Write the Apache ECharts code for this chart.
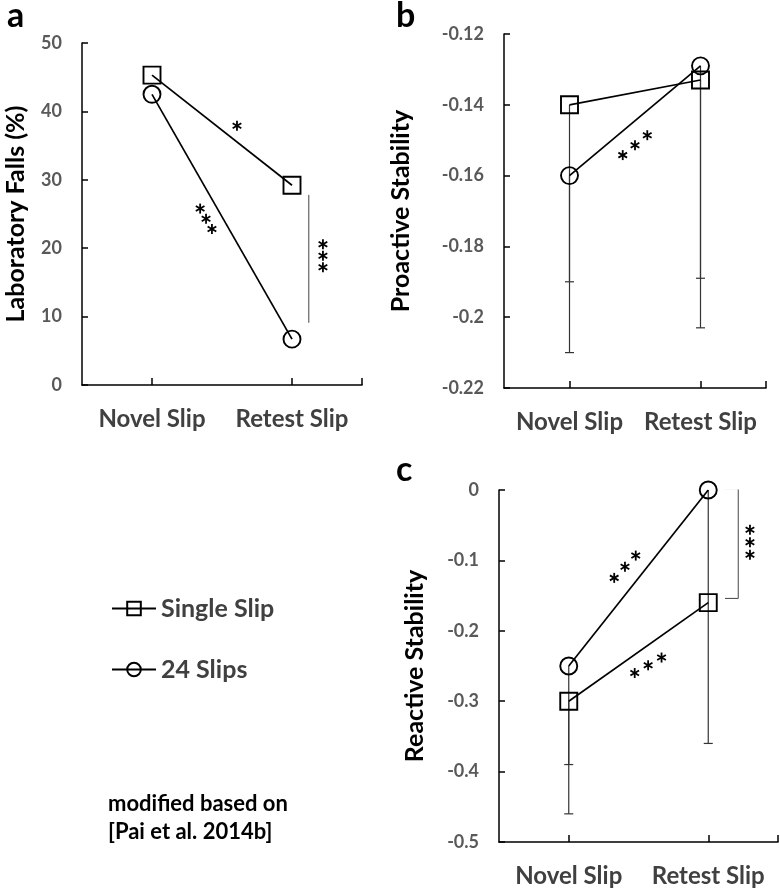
<!DOCTYPE html>
<html><head><meta charset="utf-8">
<script src="https://cdn.jsdelivr.net/npm/echarts@6/dist/echarts.min.js"></script>
<style>html,body{margin:0;padding:0;background:#fff}#c{width:780px;height:890px}</style>
</head><body><div id="c"></div>
<script>
const categories = ['Novel Slip', 'Retest Slip'];
const seriesNames = ['Single Slip', '24 Slips'];
// Panel a: Laboratory Falls (%)
const fallsSingle = [45.3, 29.2];
const falls24 = [42.5, 6.7];
// Panel b: Proactive Stability (mean, lower end of error bar)
const proSingle = [-0.140, -0.133];
const pro24 = [-0.160, -0.129];
const proSingleLow = [-0.190, -0.189];
const pro24Low = [-0.210, -0.203];
// Panel c: Reactive Stability
const reaSingle = [-0.30, -0.16];
const rea24 = [-0.25, 0.00];
const reaSingleLow = [-0.39, null];
const rea24Low = [-0.46, -0.36];
// axis ranges
const yA = {min: 0, max: 50, interval: 10};
const yB = {min: -0.22, max: -0.12, interval: 0.02};
const yC = {min: -0.5, max: 0, interval: 0.1};

const FONT = 'Lato';
const catX = categories.map((c, i) => i + 0.5);

const chart = echarts.init(document.getElementById('c'));

function xAxis(gi) {
  return {
    type: 'value', gridIndex: gi, min: 0, max: categories.length,
    axisLine: {show: true, onZero: false, lineStyle: {color: '#000', width: 1.5}},
    splitLine: {show: false},
    axisTick: {show: true, inside: true, length: 7, customValues: catX.concat([categories.length]), lineStyle: {color: '#000', width: 1.5}},
    axisLabel: {customValues: catX, formatter: v => categories[Math.round(v - 0.5)], color: '#404040', fontFamily: FONT, fontWeight: 'bold', fontSize: 24, margin: 22}
  };
}
function yAxis(gi, r, name, gap, dec) {
  return {
    type: 'value', gridIndex: gi, min: r.min, max: r.max, interval: r.interval,
    name: name, nameLocation: 'middle', nameGap: gap, nameRotate: 90,
    nameTextStyle: {color: '#000', fontFamily: FONT, fontWeight: 'bold', fontSize: 25},
    axisLine: {show: true, onZero: false, lineStyle: {color: '#000', width: 1.5}},
    splitLine: {show: false},
    axisTick: {show: true, inside: true, length: 6, lineStyle: {color: '#000', width: 1.5}},
    axisLabel: {color: '#595959', fontFamily: FONT, fontWeight: 'bold', fontSize: 18, margin: 20,
      formatter: v => String(+v.toFixed(dec))}
  };
}
function lineSeries(gi, name, vals, sym) {
  return {
    type: 'line', name: name, xAxisIndex: gi, yAxisIndex: gi, z: 5,
    data: vals.map((v, i) => [catX[i], v]),
    symbol: sym, symbolSize: 17,
    lineStyle: {color: '#000', width: 1.7},
    itemStyle: {color: 'rgba(255,255,255,0)', borderColor: '#000', borderWidth: 1.9},
    emphasis: {disabled: true}, animation: false
  };
}
function errSeries(gi, vals, lows) {
  const d = [];
  vals.forEach((v, i) => { if (lows[i] != null) d.push([catX[i], v, lows[i]]); });
  return {
    type: 'custom', xAxisIndex: gi, yAxisIndex: gi, z: 2, silent: true, animation: false,
    data: d,
    renderItem: (params, api) => {
      const top = api.coord([api.value(0), api.value(1)]);
      const bot = api.coord([api.value(0), api.value(2)]);
      const st = {stroke: '#333', lineWidth: 1.2};
      return {type: 'group', children: [
        {type: 'line', shape: {x1: top[0], y1: top[1], x2: bot[0], y2: bot[1]}, style: st},
        {type: 'line', shape: {x1: bot[0] - 4.5, y1: bot[1], x2: bot[0] + 4.5, y2: bot[1]}, style: st}
      ]};
    }
  };
}
function bracket(gi, pts) {
  return {type: 'line', xAxisIndex: gi, yAxisIndex: gi, data: pts, symbol: 'none', silent: true,
    lineStyle: {color: '#444', width: 1}, animation: false, z: 3};
}
// significance asterisks, drawn as six-armed stars placed along a screen direction
function stars(gi, x, y, count, angleDeg, spacing) {
  return {
    type: 'custom', xAxisIndex: gi, yAxisIndex: gi, z: 6, silent: true, animation: false,
    data: [[x, y]],
    renderItem: (params, api) => {
      const c = api.coord([api.value(0), api.value(1)]);
      const a = angleDeg * Math.PI / 180;
      const kids = [];
      for (let k = 0; k < count; k++) {
        const off = (k - (count - 1) / 2) * spacing;
        const cx = c[0] + off * Math.cos(a), cy = c[1] + off * Math.sin(a);
        [90, 30, 150].forEach(t => {
          const r = t * Math.PI / 180, h = 5;
          kids.push({type: 'line', shape: {x1: cx - h * Math.cos(r), y1: cy - h * Math.sin(r), x2: cx + h * Math.cos(r), y2: cy + h * Math.sin(r)},
            style: {stroke: '#000', lineWidth: 1.8}});
        });
      }
      return {type: 'group', children: kids};
    }
  };
}

const option = {
  animation: false,
  backgroundColor: '#fff',
  title: [
    {text: 'a', left: 2, top: -6, textStyle: {fontFamily: FONT, fontWeight: 'bold', fontSize: 34, color: '#000'}},
    {text: 'b', left: 391, top: -6, textStyle: {fontFamily: FONT, fontWeight: 'bold', fontSize: 34, color: '#000'}},
    {text: 'c', left: 391, top: 448, textStyle: {fontFamily: FONT, fontWeight: 'bold', fontSize: 34, color: '#000'}},
    {text: 'modified based on\n[Pai et al. 2014b]', left: 103, top: 785, textStyle: {fontFamily: FONT, fontWeight: 'bold', fontSize: 22, color: '#000', lineHeight: 28}}
  ],
  legend: {
    data: seriesNames, orient: 'vertical', left: 106, top: 591, itemWidth: 44, itemHeight: 17, itemGap: 36,
    textStyle: {fontFamily: FONT, fontWeight: 'bold', fontSize: 25, color: '#404040'}, selectedMode: false
  },
  grid: [
    {left: 82, top: 43, width: 280, height: 342},
    {left: 504, top: 34, width: 262, height: 354},
    {left: 499, top: 490, width: 279, height: 352}
  ],
  xAxis: [xAxis(0), xAxis(1), xAxis(2)],
  yAxis: [
    yAxis(0, yA, 'Laboratory Falls (%)', 54, 0),
    yAxis(1, yB, 'Proactive Stability', 91, 2),
    yAxis(2, yC, 'Reactive Stability', 72, 1)
  ],
  series: [
    lineSeries(0, seriesNames[0], fallsSingle, 'rect'),
    lineSeries(0, seriesNames[1], falls24, 'circle'),
    bracket(0, [[1.62, 27.8], [1.62, 9.1]]),
    stars(0, 1.107, 37.9, 1, 0, 0),
    stars(0, 0.886, 24.3, 3, 60, 11.8),
    stars(0, 1.721, 18.9, 3, 90, 11.5),

    errSeries(1, proSingle, proSingleLow),
    errSeries(1, pro24, pro24Low),
    lineSeries(1, seriesNames[0], proSingle, 'rect'),
    lineSeries(1, seriesNames[1], pro24, 'circle'),
    stars(1, 1.0, -0.1514, 3, -39, 15.8),

    errSeries(2, reaSingle, reaSingleLow),
    errSeries(2, rea24, rea24Low),
    lineSeries(2, seriesNames[0], reaSingle, 'rect'),
    lineSeries(2, seriesNames[1], rea24, 'circle'),
    bracket(2, [[1.62, 0.002], [1.715, 0.002], [1.715, -0.154], [1.62, -0.154]]),
    stars(2, 0.903, -0.109, 3, -46, 15.5),
    stars(2, 1.069, -0.249, 3, -30, 15.5),
    stars(2, 1.799, -0.0743, 3, 90, 12.5)
  ]
};
chart.setOption(option);
</script></body></html>
